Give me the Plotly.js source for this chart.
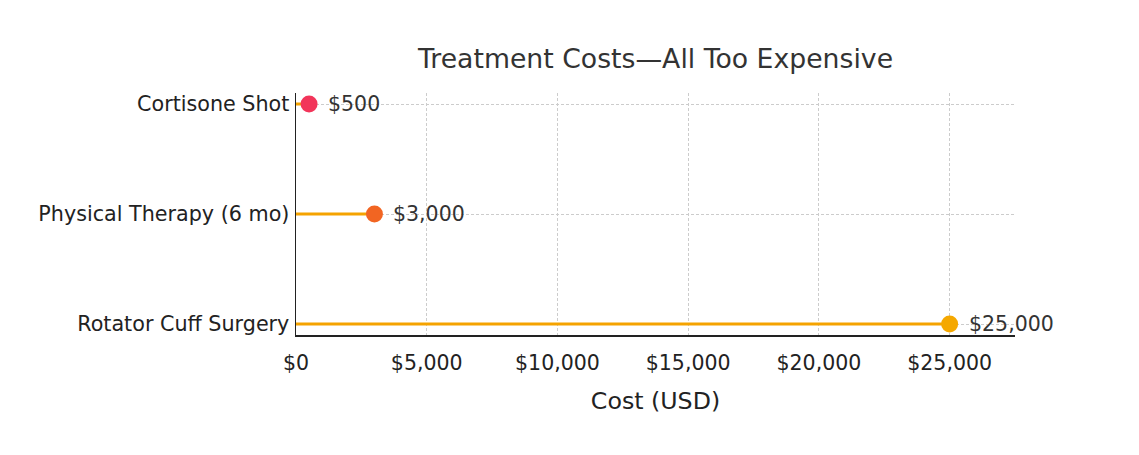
<!DOCTYPE html>
<html>
<head>
<meta charset="utf-8">
<script src="https://cdn.plot.ly/plotly-3.0.1.min.js"></script>
<style>html,body{margin:0;padding:0;background:#fff;}#chart{width:1139px;height:455px;}</style>
</head>
<body>
<div id="chart"></div>
<script>
const categories = ['Rotator Cuff Surgery', 'Physical Therapy (6 mo)', 'Cortisone Shot'];
const costs = [25000, 3000, 500];
const valueLabels = ['$25,000', '$3,000', '$500'];
const dotColors = ['#f5a800', '#f26522', '#f2355a'];
const stemColor = '#f5a300';
const tickVals = [0, 5000, 10000, 15000, 20000, 25000];
const tickText = ['$0', '$5,000', '$10,000', '$15,000', '$20,000', '$25,000'];

const font = 'DejaVu Sans, sans-serif';

const traces = [];
categories.forEach((c, i) => {
  traces.push({
    type: 'scatter', mode: 'lines',
    x: [0, costs[i]], y: [c, c],
    line: {color: stemColor, width: 3},
    hoverinfo: 'skip', showlegend: false, cliponaxis: false
  });
});
traces.push({
  type: 'scatter', mode: 'markers',
  x: costs, y: categories,
  marker: {color: dotColors, size: 17, line: {width: 0}},
  showlegend: false, cliponaxis: false
});

const annotations = categories.map((c, i) => ({
  x: costs[i], y: c, xref: 'x', yref: 'y',
  text: valueLabels[i], showarrow: false,
  xanchor: 'left', yanchor: 'middle', xshift: 17,
  font: {family: font, size: 20.5, color: '#333333'}
}));

const layout = {
  width: 1139, height: 455,
  margin: {l: 296, r: 124, t: 93, b: 120},
  paper_bgcolor: '#ffffff', plot_bgcolor: '#ffffff',
  font: {family: font, color: '#222222'},
  title: {
    text: 'Treatment Costs—All Too Expensive',
    font: {family: font, size: 26.7, color: '#333333'},
    x: 0.5755, xanchor: 'center', y: 0.872, yanchor: 'middle'
  },
  xaxis: {
    range: [0, 27500],
    tickvals: tickVals, ticktext: tickText,
    showgrid: true, gridcolor: '#cccccc', griddash: '3px,2px', gridwidth: 1,
    zeroline: false,
    showline: true, linecolor: '#222222', linewidth: 1.5,
    ticks: '', ticklabelstandoff: 9,
    tickfont: {family: font, size: 20.5, color: '#222222'},
    title: {text: 'Cost (USD)', font: {family: font, size: 23.7, color: '#222222'}, standoff: 18}
  },
  yaxis: {
    type: 'category',
    categoryorder: 'array', categoryarray: categories,
    range: [-0.1, 2.1],
    showgrid: true, gridcolor: '#cccccc', griddash: '3px,2px', gridwidth: 1,
    zeroline: false,
    showline: true, linecolor: '#222222', linewidth: 1.5,
    ticks: '', ticklabelstandoff: 1,
    tickfont: {family: font, size: 20.7, color: '#222222'}
  },
  annotations: annotations
};

Plotly.newPlot('chart', traces, layout, {displayModeBar: false, staticPlot: true});
</script>
</body>
</html>
